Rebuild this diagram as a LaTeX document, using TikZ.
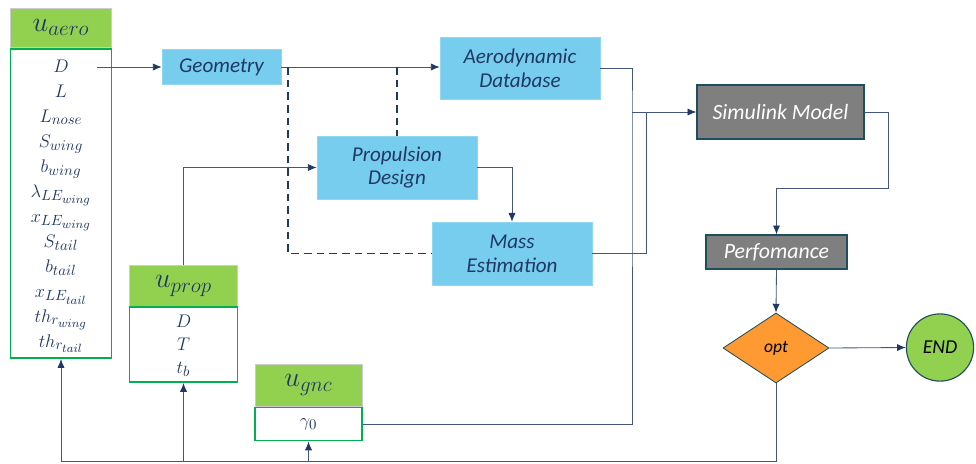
\RequirePackage{fix-cm}
\documentclass[tikz,border=0pt]{standalone}
\usepackage{fontspec}
\usepackage{amsmath}
\usetikzlibrary{arrows.meta,shapes.geometric}
\newfontfamily\boxfont{Carlito}
\DeclareMathSizes{13}{13}{10.5}{8.5}
\DeclareMathSizes{20}{20}{15}{11}
\definecolor{navy}{HTML}{203864}
\definecolor{linecol}{HTML}{44557E}
\definecolor{headgreen}{HTML}{92D050}
\definecolor{listgreen}{HTML}{00B050}
\definecolor{boxblue}{HTML}{76CDEE}
\definecolor{boxgray}{HTML}{7F7F7F}
\definecolor{tealedge}{HTML}{1F4E5F}
\definecolor{optorange}{HTML}{FF9A33}

\begin{document}
\begin{tikzpicture}[x=0.025cm, y=-0.025cm,
  wire/.style={draw=linecol, line width=0.6pt},
  flow/.style={wire, -{Latex[length=2.2mm,width=1.8mm,color=navy]}},
  dashline/.style={draw=navy, line width=1.2pt, dash pattern=on 5.5pt off 3.5pt},
  blockbox/.style={rectangle, fill=boxblue, draw=boxblue!80!white, inner sep=0pt, align=center,
    text=navy, font=\boxfont\itshape\fontsize{15}{17}\selectfont},
  graybox/.style={rectangle, fill=boxgray, draw=tealedge, line width=0.9pt, inner sep=0pt,
    text=white, font=\boxfont\itshape\fontsize{15.5}{17}\selectfont},
  varhead/.style={rectangle, fill=headgreen, draw=black!20, line width=0.4pt, inner sep=0pt,
    text=navy, font=\fontsize{20}{22}\selectfont},
  varlist/.style={rectangle, fill=white, draw=listgreen, line width=1.4pt, inner sep=0pt,
    text=navy, font=\fontsize{13}{15}\selectfont},
  listitem/.style={inner sep=0pt, anchor=base, text=navy, font=\fontsize{13}{15}\selectfont}]
  \useasboundingbox (0,0) rectangle (976,463);

  \node[varhead, minimum width=2.525cm, minimum height=0.975cm] (aerohead) at (61, 27.5) {$u_{aero}$};
  \node[varlist, minimum width=2.525cm, minimum height=7.725cm] (aerolist) at (61, 203.5) {};
  \foreach \v [count=\i] in {D, L, L_{nose}, S_{wing}, b_{wing}, \lambda_{LE_{wing}}, x_{LE_{wing}},
      S_{tail}, b_{tail}, x_{LE_{tail}}, th_{r_{wing}}, th_{r_{tail}}}
    \node[listitem] (a\i) at (61, {72+25*(\i-1)}) {$\v$};

  \node[varhead, minimum width=2.7cm, minimum height=1.05cm] (prophead) at (183.5, 286) {$u_{prop}$};
  \node[varlist, minimum width=2.7cm, minimum height=1.875cm] (proplist) at (183.5, 344.5) {};
  \node[listitem] (p1) at (183.5, 327) {$D$};
  \node[listitem] (p2) at (183.5, 350) {$T$};
  \node[listitem] (p3) at (183.5, 373) {$t_b$};

  \node[varhead, minimum width=2.675cm, minimum height=1.05cm] (gnchead) at (308.5, 385) {$u_{gnc}$};
  \node[varlist, minimum width=2.675cm, minimum height=0.825cm] (gnclist) at (308.5, 424) {$\gamma_0$};

  \node[blockbox, minimum width=2.975cm, minimum height=0.875cm] (geom) at (221.5, 67) {Geometry};
  \node[blockbox, minimum width=4cm, minimum height=1.55cm] (aero) at (520, 68) {Aerodynamic\\Database};
  \node[blockbox, minimum width=4cm, minimum height=1.575cm] (prop) at (397, 167.5) {Propulsion\\Design};
  \node[blockbox, minimum width=4cm, minimum height=1.575cm] (mass) at (512, 253.5) {Mass\\Estimation};

  \node[graybox, minimum width=4.175cm, minimum height=1.35cm] (sim) at (780.5, 112) {Simulink Model};
  \node[graybox, minimum width=3.525cm, minimum height=0.85cm] (perf) at (776.5, 252) {Perfomance};
  \node[diamond, fill=optorange, draw=tealedge, line width=0.6pt, inner sep=0pt, minimum width=2.65cm,
    minimum height=1.75cm, font=\boxfont\itshape\fontsize{12.5}{14}\selectfont] (opt) at (776, 348) {opt};
  \node[circle, fill=headgreen, draw=tealedge, line width=0.8pt, inner sep=0pt, minimum size=1.68cm,
    font=\boxfont\itshape\fontsize{14}{16}\selectfont] (endn) at (940, 347.5) {END};

  \coordinate (dout) at (97, 67);
  \coordinate (tap1) at (288, 67);
  \coordinate (tap2) at (397, 67);
  \coordinate (bus1) at (632, 112);
  \coordinate (bus2) at (646, 112);
  \coordinate (simturn) at (888, 188);
  \coordinate (fb) at (61, 461);

  \draw[flow] (dout) -- (geom.west);
  \draw[flow] (geom.east) -- (geom.east -| aero.west);
  \draw[dashline] (tap1) |- (mass.west);
  \draw[dashline] (tap2) -- (prop.north);
  \draw[flow] (prophead.north) |- (prop.west);
  \draw[flow] (prop.east) -| (mass.north);

  \draw[wire] (aero.east) -| (bus1) |- (gnclist.east);
  \draw[wire] (mass.east) -| (bus2);
  \draw[flow] (bus1) -- (sim.west);
  \draw[flow] (sim.east) -| (simturn) -| (perf.north);
  \draw[flow] (perf.south) -- (opt.north);
  \draw[flow] (opt.east) -- (endn.west);

  \draw[wire] (opt.south) |- (fb);
  \draw[flow] (fb) -- (aerolist.south);
  \draw[flow] (proplist.south |- fb) -- (proplist.south);
  \draw[flow] (gnclist.south |- fb) -- (gnclist.south);
\end{tikzpicture}
\end{document}
